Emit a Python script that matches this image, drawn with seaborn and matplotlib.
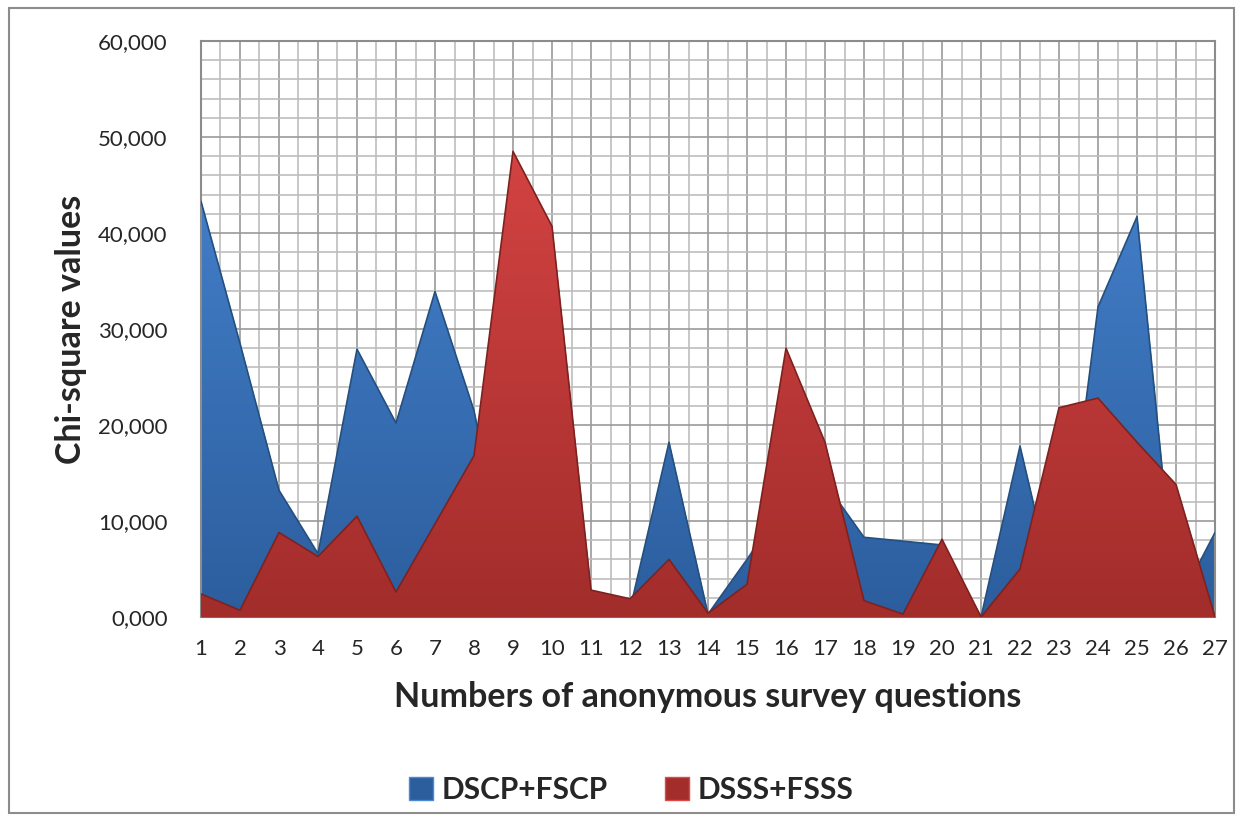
import numpy as np
import pandas as pd
import matplotlib
matplotlib.use("Agg")
import matplotlib.pyplot as plt
import seaborn as sns
from matplotlib.colors import LinearSegmentedColormap
from matplotlib.patches import Patch, Rectangle
from matplotlib.ticker import MultipleLocator, FuncFormatter

# chi-square values per question
questions = list(range(1, 28))
dscp_fscp = [43.3, 28.5, 13.2, 6.6, 27.9, 20.2, 33.9, 21.5, 1.5, 1.0,
             2.0, 0.8, 18.2, 0.3, 6.0, 12.0, 14.0, 8.3, 7.9, 7.5,
             0.0, 17.8, 0.5, 32.3, 41.7, 1.0, 8.8]
dsss_fsss = [2.4, 0.7, 8.8, 6.3, 10.5, 2.6, 9.7, 16.8, 48.5, 40.7,
             2.8, 1.9, 6.0, 0.4, 3.4, 28.0, 18.2, 1.7, 0.3, 8.1,
             0.0, 5.0, 21.8, 22.8, 18.2, 13.8, 0.0]
series_names = ["DSCP+FSCP", "DSSS+FSSS"]

df = pd.DataFrame({"question": questions,
                   series_names[0]: dscp_fscp,
                   series_names[1]: dsss_fsss})

sns.set_style("white")
plt.rcParams["font.family"] = ["Lato", "DejaVu Sans"]

fig = plt.figure(figsize=(12.43, 8.21), dpi=100)
ax = fig.add_axes([0.1617, 0.2485, 0.8158, 0.7016])

styles = {
    series_names[0]: dict(top="#4A89D6", bottom="#2C5E9E", edge="#24507F"),
    series_names[1]: dict(top="#DE4848", bottom="#A22D2B", edge="#7E2220"),
}

grad = np.linspace(1, 0, 256).reshape(-1, 1)
for i, name in enumerate(series_names):
    st = styles[name]
    z = 2 + i * 2
    poly = ax.fill_between(df["question"], 0, df[name], color=st["bottom"],
                           lw=0, zorder=z)
    cmap = LinearSegmentedColormap.from_list(name, [st["bottom"], st["top"]])
    im = ax.imshow(grad, extent=[1, 27, 0, 60], aspect="auto", cmap=cmap,
                   origin="upper", zorder=z + 0.5)
    im.set_clip_path(poly.get_paths()[0], transform=ax.transData)
    sns.lineplot(data=df, x="question", y=name, color=st["edge"], lw=1.2,
                 ax=ax, zorder=z + 0.8, legend=False)

ax.set_xlim(1, 27)
ax.set_ylim(0, 60)
ax.set_xticks(questions)
ax.xaxis.set_minor_locator(MultipleLocator(0.5))
ax.yaxis.set_major_locator(MultipleLocator(10))
ax.yaxis.set_minor_locator(MultipleLocator(2))
ax.yaxis.set_major_formatter(FuncFormatter(lambda v, p: f"{v:.3f}".replace(".", ",")))

ax.grid(True, which="major", color="#9A9A9A", lw=1.2, zorder=0)
ax.grid(True, which="minor", color="#BDBDBD", lw=1.2, zorder=0)
ax.set_axisbelow(True)
ax.tick_params(which="both", length=0)
ax.tick_params(axis="x", labelsize=16, pad=16)
ax.tick_params(axis="y", labelsize=16, pad=24)
for s in ax.spines.values():
    s.set_color("#8C8C8C")
    s.set_linewidth(1.5)

ax.set_xlabel("Numbers of anonymous survey questions", fontsize=24.5,
              fontweight="bold", labelpad=16)
ax.set_ylabel("Chi-square values", fontsize=24.5, fontweight="bold", labelpad=8)

handles = [Patch(facecolor=styles[n]["bottom"], edgecolor=styles[n]["top"], lw=1)
           for n in series_names]
leg = fig.legend(handles, series_names, loc="center", bbox_to_anchor=(0.508, 0.038),
                 ncol=2, frameon=False, handlelength=0.8, handleheight=0.8,
                 handletextpad=0.3, columnspacing=1.9,
                 prop={"size": 21.5, "weight": "bold"})

fig.patches.append(Rectangle((0.007, 0.01), 0.986, 0.98, transform=fig.transFigure,
                             fill=False, edgecolor="#8C8C8C", lw=1.5))

fig.savefig("out.png", dpi=100)
